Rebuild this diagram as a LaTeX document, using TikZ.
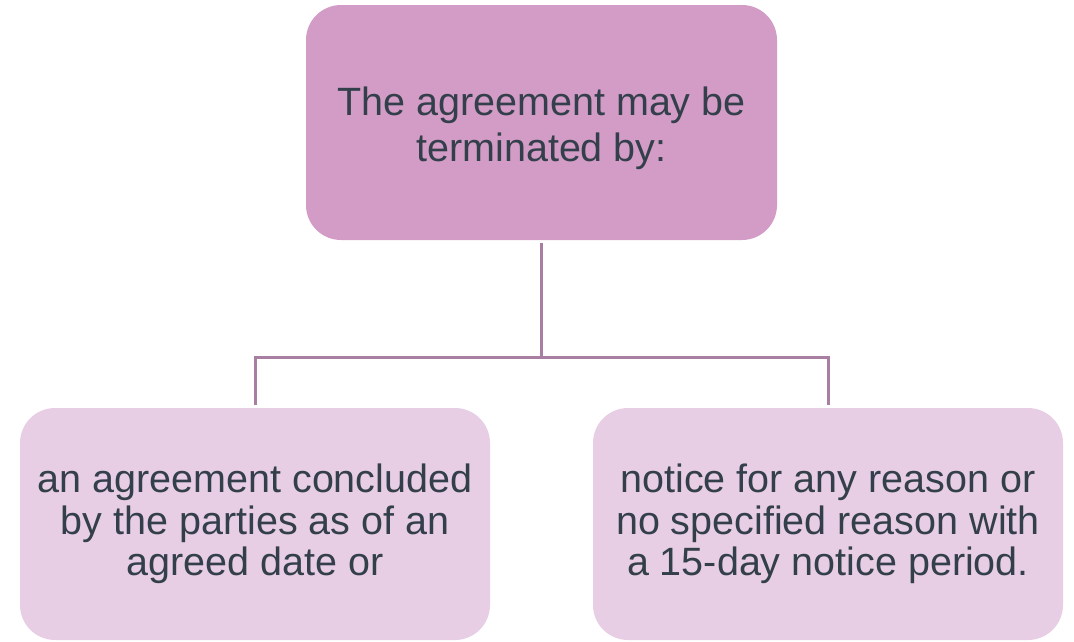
\documentclass[tikz,border=0pt]{standalone}
\usepackage{fontspec}
\setmainfont{Liberation Sans}
\definecolor{headfill}{HTML}{D39CC6}
\definecolor{itemfill}{HTML}{E8CEE4}
\definecolor{linkcol}{HTML}{A87EA2}
\definecolor{textcol}{HTML}{333F4A}
\begin{document}
\begin{tikzpicture}[x=1pt, y=-1pt,
    headbox/.style={fill=headfill, rounded corners=35pt, minimum width=471pt, minimum height=235pt,
      inner sep=0pt, align=center, text=textcol, font=\fontsize{39.5}{46}\selectfont},
    itembox/.style={fill=itemfill, rounded corners=35pt, minimum width=470pt, minimum height=232pt,
      inner sep=0pt, align=center, text=textcol, font=\fontsize{39.5}{41.7}\selectfont},
    link/.style={draw=linkcol, line width=3pt}]

  \useasboundingbox (0,0) rectangle (1074,641);

  %% boxes
  \node[headbox] (head) at (541.5,122.5) {\rule{0pt}{39.5pt}The agreement may be\\terminated by:};
  \node[itembox] (left) at (255,524) {an agreement concluded\\by the parties as of an\\agreed date or};
  \node[itembox] (right) at (828,524) {notice for any reason or\\no specified reason with\\a 15-day notice period.};

  %% connectors
  \coordinate (split) at (541.5,357);
  \draw[link, shorten <=2.5pt] (head.south) -- (split);
  \draw[link, shorten >=3pt] (split) -| (left.north);
  \draw[link, shorten >=3pt] (split) -| (right.north);

\end{tikzpicture}
\end{document}
